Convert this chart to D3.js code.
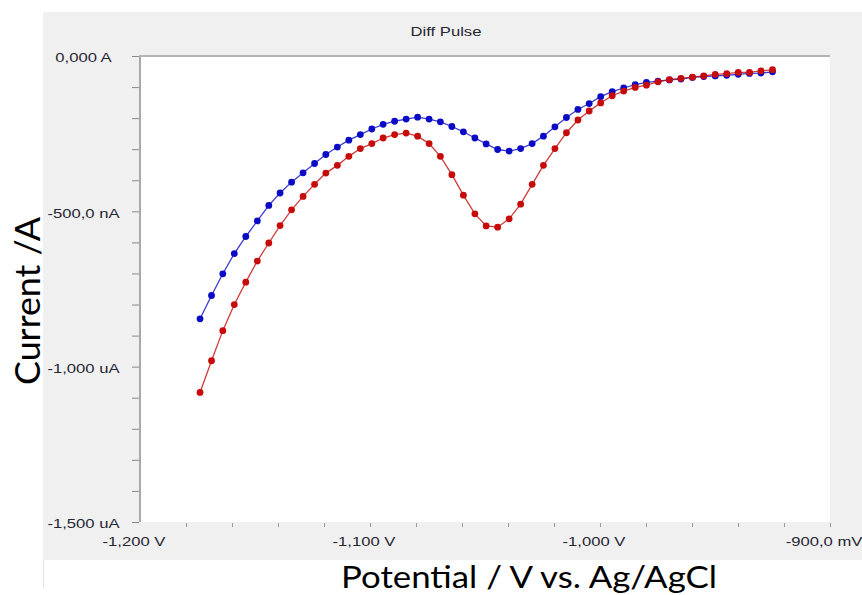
<!DOCTYPE html>
<html>
<head>
<meta charset="utf-8">
<script src="https://cdn.jsdelivr.net/npm/d3@7"></script>
<style>
  html, body { margin: 0; padding: 0; background: #ffffff; }
  svg { display: block; }
</style>
</head>
<body>
<svg id="chart" width="862" height="595"></svg>
<script>
// ---- data ----
const potentialMV = [
  -1173.9, -1168.9, -1164.0, -1159.0, -1154.0, -1149.0, -1144.0, -1139.1, -1134.1, -1129.1,
  -1124.1, -1119.2, -1114.2, -1109.2, -1104.2, -1099.2, -1094.3, -1089.3, -1084.3, -1079.3,
  -1074.3, -1069.4, -1064.4, -1059.4, -1054.4, -1049.5, -1044.5, -1039.5, -1034.5, -1029.5,
  -1024.6, -1019.6, -1014.6, -1009.6, -1004.7, -999.7, -994.7, -989.7, -984.7, -979.8,
  -974.8, -969.8, -964.8, -959.8, -954.9, -949.9, -944.9, -939.9, -935.0, -930.0, -925.0
];
const blueCurrentNA = [
  -846, -771, -701, -636, -581, -531, -481, -441, -406, -376,
  -346, -317, -293, -271, -253, -235, -220, -210, -203, -197,
  -203, -212, -227, -244, -264, -283, -301, -306, -298, -282,
  -258, -228, -198, -172, -153, -131, -115, -103, -92, -85,
  -81, -77, -74, -69, -66, -64, -62, -59, -56, -55, -51
];
const redCurrentNA = [
  -1083, -981, -884, -800, -728, -660, -602, -546, -495, -452,
  -413, -377, -352, -323, -298, -282, -264, -253, -248, -258,
  -282, -323, -382, -448, -508, -547, -551, -524, -477, -413,
  -352, -298, -247, -206, -177, -151, -128, -113, -101, -94,
  -83, -76, -72, -68, -64, -59, -57, -53, -53, -48, -44
];
const chartTitle = "Diff Pulse";
const xTitle = "Potential / V vs. Ag/AgCl";
const yTitle = "Current /A";
const xLabelValues = [-1200, -1100, -1000, -900];
const xLabelTexts = ["-1,200 V", "-1,100 V", "-1,000 V", "-900,0 mV"];
const yLabelValues = [0, -500, -1000, -1500];
const yLabelTexts = ["0,000 A", "-500,0 nA", "-1,000 uA", "-1,500 uA"];
const xTickStep = 20;
const yTickStep = 100;

// ---- layout ----
const svg = d3.select("#chart");
const plot = { left: 140, top: 56, right: 830, bottom: 522 };
const blue = "#0b0bc6";
const red = "#c70a0a";

const x = d3.scaleLinear().domain([-1200, -900]).range([plot.left, plot.right]);
const y = d3.scaleLinear().domain([-1500, 0]).range([plot.bottom, plot.top]);

// gray panel
svg.append("rect").attr("x", 43).attr("y", 12).attr("width", 862 - 43).attr("height", 560 - 12)
  .attr("fill", "#f0f0f0");
svg.append("line").attr("x1", 43.5).attr("x2", 43.5).attr("y1", 560).attr("y2", 588)
  .attr("stroke", "#e4e4e4").attr("stroke-width", 1);

// plot area
svg.append("rect").attr("x", plot.left).attr("y", plot.top)
  .attr("width", plot.right - plot.left).attr("height", plot.bottom - plot.top)
  .attr("fill", "#ffffff");

// borders (left + top)
svg.append("line").attr("x1", plot.left).attr("x2", plot.left)
  .attr("y1", plot.top - 1).attr("y2", plot.bottom)
  .attr("stroke", "#a9a9a9").attr("stroke-width", 2);
svg.append("line").attr("x1", plot.left - 1).attr("x2", plot.right)
  .attr("y1", plot.top).attr("y2", plot.top)
  .attr("stroke", "#b4b4b4").attr("stroke-width", 2);

// y axis ticks
const yAxis = d3.axisLeft(y)
  .tickValues(d3.range(-1500, 1, yTickStep))
  .tickSize(7)
  .tickFormat("");
const gy = svg.append("g").attr("transform", `translate(${plot.left - 1},0)`).call(yAxis);
gy.select(".domain").remove();
gy.selectAll(".tick line").attr("stroke", "#8a8a8a").attr("stroke-width", 1);

// x axis ticks
const xAxis = d3.axisBottom(x)
  .tickValues(d3.range(-1180, -899, xTickStep))
  .tickSize(4)
  .tickFormat("");
const gx = svg.append("g").attr("transform", `translate(0,${plot.bottom + 1})`).call(xAxis);
gx.select(".domain").remove();
gx.selectAll(".tick line").attr("stroke", "#9a9a9a").attr("stroke-width", 1);

// tick labels
const labelFont = "'Liberation Sans', Arial, sans-serif";
const labelColor = "#262632";
yLabelValues.forEach((v, i) => {
  svg.append("text")
    .attr("transform", `translate(83.5,${y(v) + 1.5}) scale(1.28,1)`)
    .attr("text-anchor", "middle")
    .attr("dominant-baseline", "central")
    .attr("font-family", labelFont)
    .attr("font-size", 13)
    .attr("fill", labelColor)
    .text(yLabelTexts[i]);
});
xLabelValues.forEach((v, i) => {
  svg.append("text")
    .attr("transform", `translate(${x(v) - 6},${541.5}) scale(1.28,1)`)
    .attr("text-anchor", "middle")
    .attr("dominant-baseline", "central")
    .attr("font-family", labelFont)
    .attr("font-size", 13)
    .attr("fill", labelColor)
    .text(xLabelTexts[i]);
});

// title
svg.append("text")
  .attr("transform", "translate(446,31) scale(1.28,1)")
  .attr("text-anchor", "middle")
  .attr("dominant-baseline", "central")
  .attr("font-family", labelFont)
  .attr("font-size", 13)
  .attr("fill", labelColor)
  .text(chartTitle);

// axis titles
const titleFont = "Lato, 'Open Sans', sans-serif";
svg.append("text")
  .attr("x", 529).attr("y", 588)
  .attr("text-anchor", "middle")
  .attr("font-family", titleFont)
  .attr("font-size", 31)
  .attr("fill", "#000")
  .attr("textLength", 376)
  .attr("lengthAdjust", "spacingAndGlyphs")
  .text(xTitle);
svg.append("text")
  .attr("transform", "translate(40,301) rotate(-90)")
  .attr("text-anchor", "middle")
  .attr("font-family", titleFont)
  .attr("font-size", 34)
  .attr("fill", "#000")
  .attr("textLength", 168)
  .attr("lengthAdjust", "spacingAndGlyphs")
  .text(yTitle);

// series
const series = [
  { values: blueCurrentNA, color: blue },
  { values: redCurrentNA, color: red }
];
const line = d3.line().x(d => x(d[0])).y(d => y(d[1]));
series.forEach(s => {
  const pts = potentialMV.map((p, i) => [p, s.values[i]]);
  const g = svg.append("g");
  g.append("path").datum(pts).attr("d", line)
    .attr("fill", "none").attr("stroke", s.color).attr("stroke-width", 1.3).attr("opacity", 0.8);
  g.selectAll("circle").data(pts).enter().append("circle")
    .attr("cx", d => x(d[0])).attr("cy", d => y(d[1])).attr("r", 3.4)
    .attr("fill", s.color);
});
</script>
</body>
</html>
